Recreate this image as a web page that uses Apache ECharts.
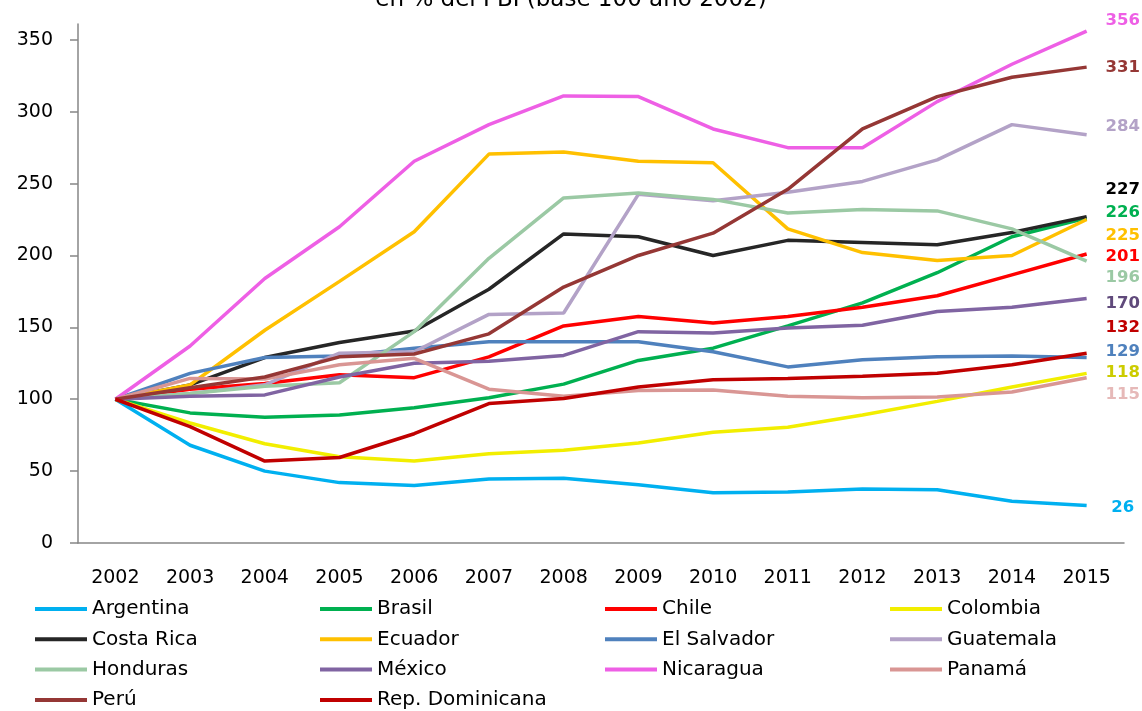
<!DOCTYPE html>
<html>
<head>
<meta charset="utf-8">
<script src="https://cdn.jsdelivr.net/npm/echarts@6/dist/echarts.min.js"></script>
<style>
html,body{margin:0;padding:0;background:#fff;}
#chart{width:1142px;height:711px;}
</style>
</head>
<body>
<div id="chart"></div>
<script>
const years = ['2002','2003','2004','2005','2006','2007','2008','2009','2010','2011','2012','2013','2014','2015'];
const yTicks = [0, 50, 100, 150, 200, 250, 300, 350];

const argentina = [100, 68, 50, 42, 40, 44.5, 45, 40.5, 35, 35.5, 37.5, 37, 29, 26];
const brasil = [100, 90.5, 87.5, 89, 94, 101, 110.5, 127, 135.5, 151, 167, 188, 213, 226];
const chile = [100, 107, 111, 117, 115, 129.5, 151, 157.5, 153, 157.5, 164, 172, 186.5, 201];
const colombia = [100, 83.5, 69, 60, 57, 62, 64.5, 69.5, 77, 80.5, 89, 98.5, 108.5, 118];
const costaRica = [100, 110, 129, 139.5, 147.5, 176.5, 215, 213, 200, 210.5, 209, 207.5, 216, 227];
const ecuador = [100, 110, 148, 182, 216.5, 270.5, 272, 265.5, 264.5, 218.5, 202, 196.5, 200, 225];
const elSalvador = [100, 118, 129, 130, 135.5, 140, 140, 140, 133, 122.5, 127.5, 129.5, 130, 129];
const guatemala = [100, 104, 110, 132, 133, 159, 160, 242.5, 238, 244, 251.5, 266.5, 291, 284];
const honduras = [100, 104, 109, 111.5, 147, 198, 240, 243.5, 239, 229.5, 232, 231, 218.5, 196];
const mexico = [100, 102, 103, 115.5, 125, 126.5, 130.5, 147, 146, 149.5, 151.5, 161, 164, 170];
const nicaragua = [100, 137, 184, 220, 265.5, 291, 311, 310.5, 288, 275, 275, 307, 333, 356];
const panama = [100, 114.5, 114, 124, 128.5, 107, 102, 106, 106.5, 102, 101, 101.5, 105, 115];
const peru = [100, 108, 115.5, 129.5, 131.5, 145.5, 178, 200, 215.5, 246, 288, 310.5, 324, 331];
const repDominicana = [100, 81, 57, 59.5, 76, 97, 100.5, 108.5, 113.5, 114.5, 116, 118, 124, 132];

const seriesDefs = [
  {name:'Argentina', data:argentina, color:'#00B0F0', labelColor:'#00B0F0', labelY:508},
  {name:'Brasil', data:brasil, color:'#00B050', labelColor:'#00B050', labelY:213},
  {name:'Chile', data:chile, color:'#FF0000', labelColor:'#FF0000', labelY:257},
  {name:'Colombia', data:colombia, color:'#F2EE00', labelColor:'#CCCC00', labelY:373},
  {name:'Costa Rica', data:costaRica, color:'#262626', labelColor:'#000000', labelY:190},
  {name:'Ecuador', data:ecuador, color:'#FFC000', labelColor:'#FFC000', labelY:236},
  {name:'El Salvador', data:elSalvador, color:'#4F81BD', labelColor:'#4F81BD', labelY:352},
  {name:'Guatemala', data:guatemala, color:'#B3A2C7', labelColor:'#B3A2C7', labelY:127},
  {name:'Honduras', data:honduras, color:'#9BC9A4', labelColor:'#9BC9A4', labelY:278},
  {name:'México', data:mexico, color:'#8064A2', labelColor:'#604A7B', labelY:304},
  {name:'Nicaragua', data:nicaragua, color:'#EE5FE5', labelColor:'#EE5FE5', labelY:21},
  {name:'Panamá', data:panama, color:'#D99694', labelColor:'#E6B9B8', labelY:395},
  {name:'Perú', data:peru, color:'#953735', labelColor:'#953735', labelY:68},
  {name:'Rep. Dominicana', data:repDominicana, color:'#C00000', labelColor:'#C00000', labelY:328}
];

const legendCols = 4;
const legendLeft = [35, 320, 605, 890];
const legendTop = 598;
const legendRowStep = 30.3;

const FONT = 'DejaVu Sans';
const chart = echarts.init(document.getElementById('chart'), null, {renderer:'canvas'});

function buildSeries(offsets){
  return seriesDefs.map((s, i) => ({
    name: s.name,
    type: 'line',
    data: s.data,
    symbol: 'none',
    color: s.color,
    lineStyle: {width: 3.5, color: s.color},
    z: 2 + i,
    endLabel: {
      show: true,
      formatter: p => String(Math.round(p.value)),
      color: s.labelColor,
      fontFamily: FONT,
      fontWeight: 'bold',
      fontSize: 16.5,
      distance: 36,
      align: 'center',
      verticalAlign: 'middle',
      offset: offsets ? offsets[i] : [0, 0]
    }
  }));
}

const legends = seriesDefs.map((s, i) => ({
  data: [s.name],
  orient: 'horizontal',
  left: legendLeft[i % legendCols],
  top: legendTop + Math.floor(i / legendCols) * legendRowStep,
  icon: 'rect',
  itemWidth: 52,
  itemHeight: 4,
  selectedMode: false,
  padding: 0,
  textStyle: {fontFamily: FONT, fontSize: 20, color: '#000', lineHeight: 22}
}));

const option = {
  animation: false,
  backgroundColor: '#ffffff',
  title: {
    text: 'en % del PBI (base 100 año 2002)',
    left: 'center',
    top: -16,
    textStyle: {fontFamily: FONT, fontSize: 23, fontWeight: 'normal', color: '#000'}
  },
  grid: {left: 78, right: 18, top: 24, bottom: 168, containLabel: false},
  xAxis: {
    type: 'category',
    data: years,
    boundaryGap: true,
    axisLine: {lineStyle: {color: '#868686', width: 1.5}},
    axisTick: {show: false},
    axisLabel: {color: '#000', fontFamily: FONT, fontSize: 19, margin: 26}
  },
  yAxis: {
    type: 'value',
    min: 0,
    max: 361,
    interval: 50,
    splitLine: {show: false},
    axisLine: {show: true, lineStyle: {color: '#868686', width: 1.5}},
    axisTick: {show: true, length: 8, lineStyle: {color: '#868686', width: 1.5}, customValues: yTicks},
    axisLabel: {color: '#000', fontFamily: FONT, fontSize: 19, margin: 25, customValues: yTicks}
  },
  legend: legends,
  series: buildSeries(null)
};

chart.setOption(option);

const offsets = seriesDefs.map((s, i) => {
  const py = chart.convertToPixel({xAxisIndex: 0, yAxisIndex: 0}, [years.length - 1, s.data[s.data.length - 1]])[1];
  return [0, s.labelY - py];
});
chart.setOption({series: buildSeries(offsets)});
</script>
</body>
</html>
